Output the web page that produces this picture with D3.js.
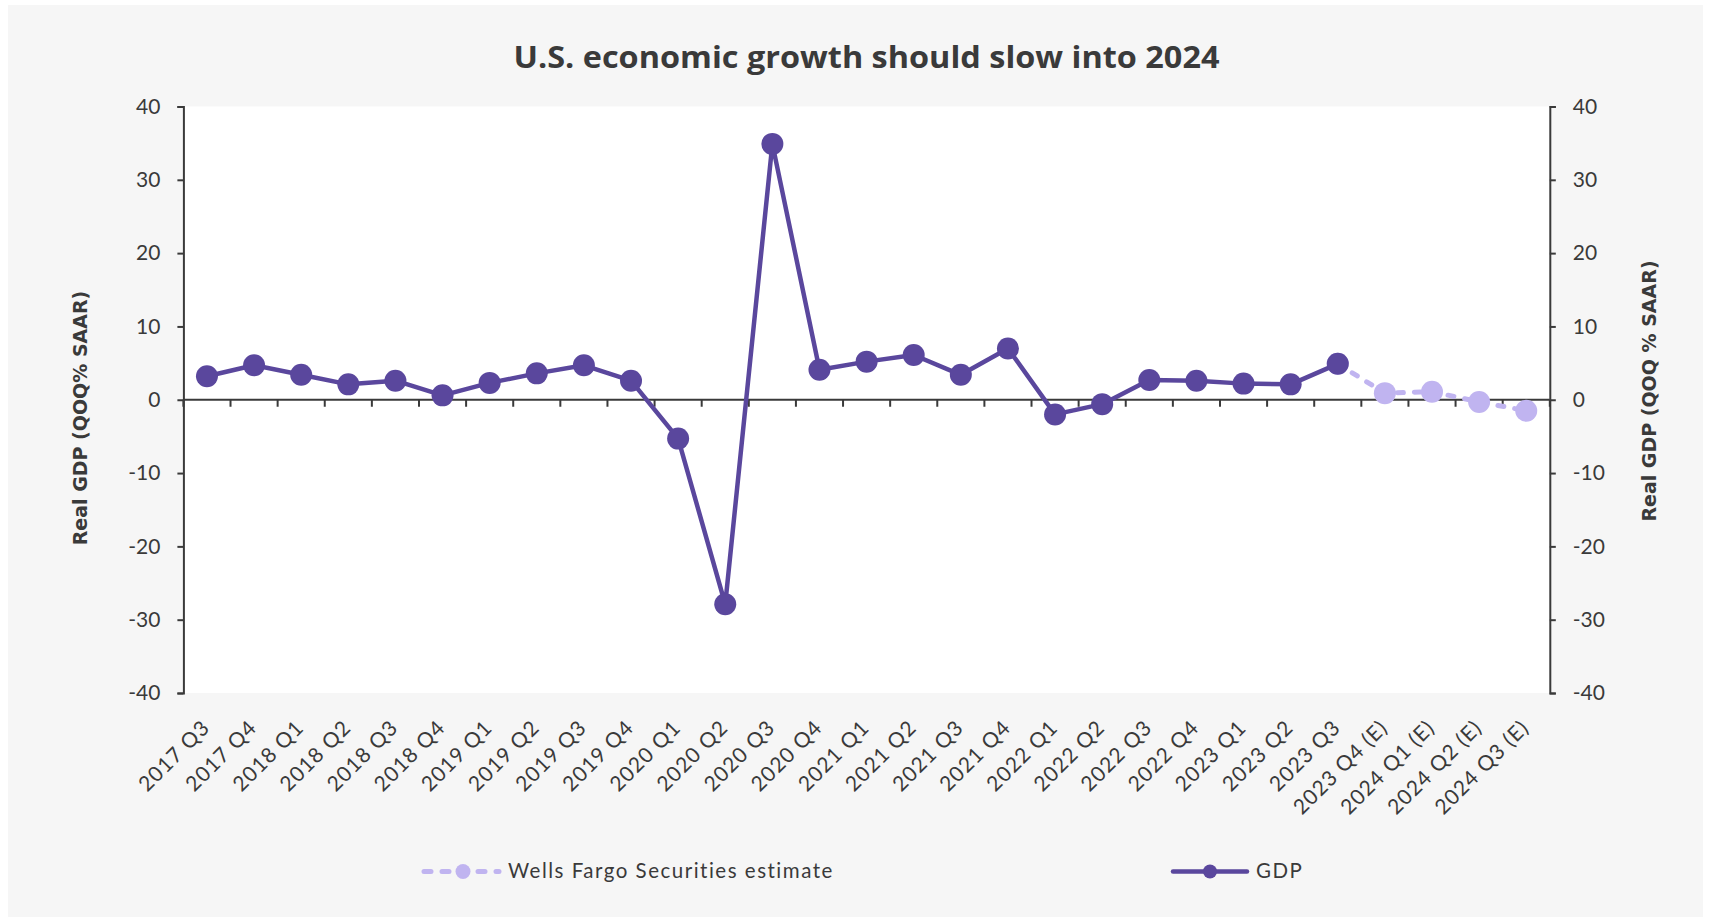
<!DOCTYPE html>
<html>
<head>
<meta charset="utf-8">
<script src="https://cdn.jsdelivr.net/npm/d3@7"></script>
<style>
  html, body { margin: 0; padding: 0; background: #ffffff; }
  svg { display: block; }
</style>
</head>
<body>
<svg id="chart" width="1712" height="917"></svg>
<script>
// ---- data ----
const categories = [
  "2017 Q3", "2017 Q4",
  "2018 Q1", "2018 Q2", "2018 Q3", "2018 Q4",
  "2019 Q1", "2019 Q2", "2019 Q3", "2019 Q4",
  "2020 Q1", "2020 Q2", "2020 Q3", "2020 Q4",
  "2021 Q1", "2021 Q2", "2021 Q3", "2021 Q4",
  "2022 Q1", "2022 Q2", "2022 Q3", "2022 Q4",
  "2023 Q1", "2023 Q2", "2023 Q3",
  "2023 Q4 (E)", "2024 Q1 (E)", "2024 Q2 (E)", "2024 Q3 (E)"
];
const gdpCategories = categories.slice(0, 25);
const gdpValues = [3.2, 4.7, 3.4, 2.1, 2.6, 0.6, 2.3, 3.6, 4.7, 2.6,
                   -5.3, -27.9, 34.9, 4.1, 5.2, 6.1, 3.4, 7.0,
                   -2.0, -0.6, 2.7, 2.6, 2.2, 2.1, 4.9];
const estimateCategories = ["2023 Q3", "2023 Q4 (E)", "2024 Q1 (E)", "2024 Q2 (E)", "2024 Q3 (E)"];
const estimateValues = [4.9, 0.9, 1.1, -0.3, -1.5];
const yTicks = [-40, -30, -20, -10, 0, 10, 20, 30, 40];
const titleText = "U.S. economic growth should slow into 2024";
const yLabelLeft = "Real GDP (QOQ% SAAR)";
const yLabelRight = "Real GDP (QOQ % SAAR)";
const legendEstimate = "Wells Fargo Securities estimate";
const legendGDP = "GDP";

// ---- style ----
const dark = "#5a479d";
const light = "#c0b4f0";
const axisColor = "#3a3a3a";
const textColor = "#3a3a3a";
const labelFont = "Lato, 'Open Sans', sans-serif";

const svg = d3.select("#chart");
const plot = { left: 183.4, right: 1549.8, top: 106.5, bottom: 693 };

// background panel
svg.append("rect").attr("x", 8).attr("y", 5).attr("width", 1695).attr("height", 912)
  .attr("fill", "#f6f6f6");
// plot area
svg.append("rect").attr("x", plot.left).attr("y", plot.top)
  .attr("width", plot.right - plot.left).attr("height", plot.bottom - plot.top)
  .attr("fill", "#ffffff");

const x = d3.scaleBand().domain(categories).range([plot.left, plot.right]).padding(0);
const bw = x.bandwidth();
const cx = c => x(c) + bw / 2;
const y = d3.scaleLinear().domain([-40, 40]).range([plot.bottom, plot.top]);

// title
svg.append("text").attr("x", 866.5).attr("y", 67.5).attr("text-anchor", "middle")
  .attr("font-family", "'Open Sans', Lato, sans-serif").attr("font-weight", 700).attr("font-size", 31)
  .attr("textLength", 706).attr("lengthAdjust", "spacingAndGlyphs")
  .attr("fill", textColor).text(titleText);

// left axis
const fmt = d => String(d);
const leftAxis = svg.append("g").attr("transform", `translate(${plot.left},0)`)
  .call(d3.axisLeft(y).tickValues(yTicks).tickSize(6).tickPadding(17).tickFormat(fmt));
// right axis
const rightAxis = svg.append("g").attr("transform", `translate(${plot.right},0)`)
  .call(d3.axisRight(y).tickValues(yTicks).tickSize(6).tickPadding(17).tickFormat(fmt));
[leftAxis, rightAxis].forEach(g => {
  g.select(".domain").attr("stroke", axisColor).attr("stroke-width", 2);
  g.selectAll(".tick line").attr("stroke", axisColor).attr("stroke-width", 2);
  g.selectAll(".tick text").attr("font-family", labelFont).attr("font-size", 21)
    .attr("fill", textColor);
});

// x axis at zero with ticks at category boundaries
const xAxisG = svg.append("g");
xAxisG.append("line").attr("x1", plot.left).attr("x2", plot.right)
  .attr("y1", y(0)).attr("y2", y(0)).attr("stroke", axisColor).attr("stroke-width", 2);
const boundaries = categories.map(c => x(c)).concat([x(categories[categories.length - 1]) + bw]);
xAxisG.selectAll("line.tk").data(boundaries).enter().append("line").attr("class", "tk")
  .attr("x1", d => d).attr("x2", d => d).attr("y1", y(0)).attr("y2", y(0) + 7)
  .attr("stroke", axisColor).attr("stroke-width", 2);

// x labels
svg.append("g").selectAll("text").data(categories).enter().append("text")
  .attr("transform", d => `translate(${cx(d) + 4},${729}) rotate(-45)`)
  .attr("text-anchor", "end")
  .attr("font-family", labelFont).attr("font-size", 21).attr("letter-spacing", 1)
  .attr("fill", textColor).text(d => d);

// y axis titles
svg.append("text").attr("transform", "translate(86.5,418) rotate(-90)")
  .attr("text-anchor", "middle").attr("font-family", "'DejaVu Sans', Verdana, sans-serif")
  .attr("font-weight", 700).attr("font-size", 19).attr("fill", textColor).text(yLabelLeft);
svg.append("text").attr("transform", "translate(1655.5,391) rotate(-90)")
  .attr("text-anchor", "middle").attr("font-family", "'DejaVu Sans', Verdana, sans-serif")
  .attr("font-weight", 700).attr("font-size", 19).attr("fill", textColor).text(yLabelRight);

// estimate series
const estData = estimateCategories.map((c, i) => ({ c, v: estimateValues[i] }));
const line = d3.line().x(d => cx(d.c)).y(d => y(d.v));
svg.append("path").datum(estData).attr("d", line)
  .attr("fill", "none").attr("stroke", light).attr("stroke-width", 5)
  .attr("stroke-dasharray", "6,11").attr("stroke-linecap", "round");
svg.append("g").selectAll("circle").data(estData).enter().append("circle")
  .attr("cx", d => cx(d.c)).attr("cy", d => y(d.v)).attr("r", 11).attr("fill", light);

// GDP series
const gdpData = gdpCategories.map((c, i) => ({ c, v: gdpValues[i] }));
svg.append("path").datum(gdpData).attr("d", line)
  .attr("fill", "none").attr("stroke", dark).attr("stroke-width", 4.5)
  .attr("stroke-linejoin", "round");
svg.append("g").selectAll("circle").data(gdpData).enter().append("circle")
  .attr("cx", d => cx(d.c)).attr("cy", d => y(d.v)).attr("r", 11).attr("fill", dark);

// legend
const legY = 871.5;
const leg1 = svg.append("g");
leg1.append("line").attr("x1", 424).attr("x2", 499).attr("y1", legY).attr("y2", legY)
  .attr("stroke", light).attr("stroke-width", 5).attr("stroke-dasharray", "7,11")
  .attr("stroke-linecap", "round");
leg1.append("circle").attr("cx", 463).attr("cy", legY).attr("r", 7.5).attr("fill", light);
leg1.append("text").attr("x", 508).attr("y", 878).attr("font-family", labelFont)
  .attr("font-size", 20.5).attr("letter-spacing", 1.5).attr("fill", textColor).text(legendEstimate);

const leg2 = svg.append("g");
leg2.append("line").attr("x1", 1173).attr("x2", 1247).attr("y1", legY).attr("y2", legY)
  .attr("stroke", dark).attr("stroke-width", 4.5).attr("stroke-linecap", "round");
leg2.append("circle").attr("cx", 1210).attr("cy", legY).attr("r", 7).attr("fill", dark);
leg2.append("text").attr("x", 1256).attr("y", 878).attr("font-family", labelFont)
  .attr("font-size", 20.5).attr("letter-spacing", 1.5).attr("fill", textColor).text(legendGDP);
</script>
</body>
</html>
